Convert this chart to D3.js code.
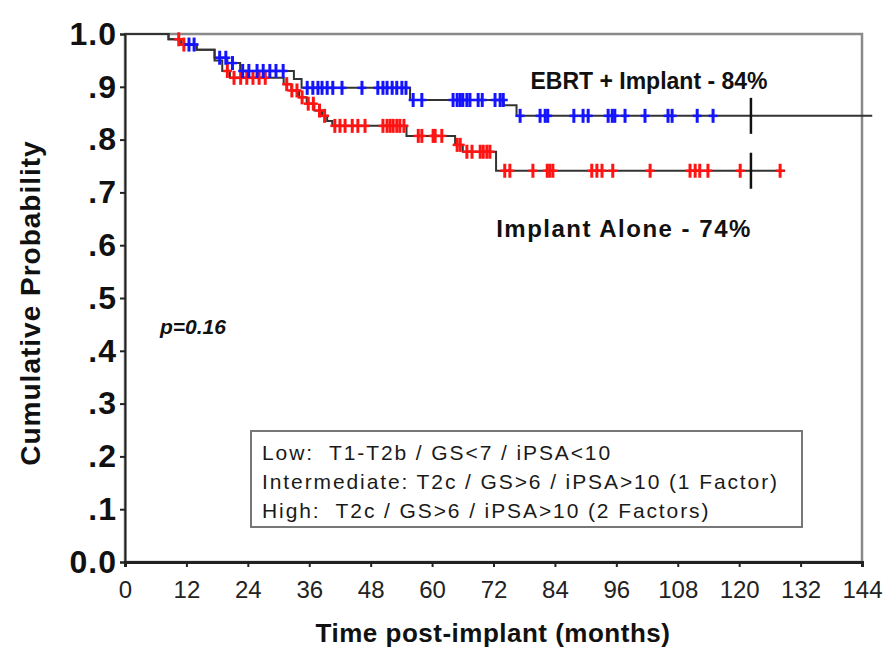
<!DOCTYPE html>
<html><head><meta charset="utf-8">
<script src="https://cdn.jsdelivr.net/npm/d3@7"></script>
<style>
html,body{margin:0;padding:0;background:#fff;}
svg{display:block;font-family:"Liberation Sans",Arial,sans-serif;}
text{white-space:pre;}
</style></head>
<body>
<svg id="chart" width="893" height="651"></svg>
<script>
// ---- data ----
const xTicks = [0,12,24,36,48,60,72,84,96,108,120,132,144];
const yTicks = [0,0.1,0.2,0.3,0.4,0.5,0.6,0.7,0.8,0.9,1.0];
const yTickLabels = ["0.0",".1",".2",".3",".4",".5",".6",".7",".8",".9","1.0"];

// EBRT + Implant (blue): step times and survival after each step
const ebrtStepT = [8.5, 11, 14, 17.5, 20, 22.5, 33, 34.5, 55.7, 74, 76.5];
const ebrtStepS = [0.99, 0.98, 0.97, 0.955, 0.945, 0.93, 0.915, 0.898, 0.875, 0.865, 0.845];
const ebrtEnd = 146;
const ebrtCensor = [12.5, 13.5, 18.5, 19.7, 21, 23, 24.2, 25.8, 27, 28.3, 29.5, 30.9,
  35.6, 36.7, 37.7, 38.5, 39.5, 40.6, 42.4, 46.3, 49.4, 50.4, 51.2, 52.2, 53.1, 54.1, 54.9,
  56.3, 58, 64.1, 64.9, 65.5, 66, 66.8, 67.4, 69, 69.8, 72.3, 73.3, 73.9,
  77.2, 81.1, 82.1, 82.6, 87.7, 89.5, 90.5, 94.4, 95.2, 95.7, 97.7, 101.6, 106.1, 106.9, 111.8, 114.9];

// Implant Alone (red)
const implStepT = [8.5, 11, 14, 17.5, 19, 20.5, 31, 32.5, 34, 35.5, 37, 38.5, 39.5, 40.5, 55, 64.5, 66, 72.5];
const implStepS = [0.99, 0.98, 0.97, 0.95, 0.93, 0.917, 0.905, 0.893, 0.88, 0.868, 0.855, 0.845, 0.835, 0.826, 0.807, 0.79, 0.777, 0.741];
const implEnd = 129;
const implCensor = [10.5, 11.5, 20, 21.3, 22.6, 23.8, 25, 26.2, 27.4, 31.6, 32.6, 33.6, 34.6, 35.8, 36.8, 38, 39,
  41, 42, 43, 44.4, 45.5, 46.9, 50.4, 51.2, 51.8, 52.4, 53.1, 53.7, 54.5,
  57.3, 58, 60.2, 60.6, 61.9, 64.9, 65.5, 66.8, 67.8, 69.4, 70, 70.7, 71.3,
  74.2, 75.2, 79.7, 82.5, 83, 83.6, 91.2, 92.2, 93.2, 95.3, 102.6, 110.4, 111.4, 112.3, 113.9, 120.2, 128];

const milestoneT = 122.3;
const seriesLabels = ["EBRT + Implant - 84%", "Implant Alone - 74%"];
const legendLines = ["Low:  T1-T2b / GS<7 / iPSA<10",
  "Intermediate: T2c / GS>6 / iPSA>10 (1 Factor)",
  "High:  T2c / GS>6 / iPSA>10 (2 Factors)"];
const pText = "p=0.16";

// ---- chart ----
const svg = d3.select("#chart");
const x = d3.scaleLinear().domain([0,144]).range([125,862]);
const y = d3.scaleLinear().domain([0,1]).range([562,34]);

function stepPoints(T,S,end){
  const pts=[[0,1]];
  T.forEach((t,i)=>pts.push([t,S[i]]));
  pts.push([end,S[S.length-1]]);
  return pts;
}
function survAt(T,S,t){
  let s=1; for(let i=0;i<T.length;i++){ if(T[i]<=t) s=S[i]; } return s;
}

// frame (gray)
svg.append("rect").attr("x",x(0)).attr("y",y(1)).attr("width",x(144)-x(0)).attr("height",y(0)-y(1))
  .attr("fill","none").attr("stroke","#8a8a8a").attr("stroke-width",2.5);

// axes
const xAxis = d3.axisBottom(x).tickValues(xTicks).tickSize(5).tickFormat(d=>d);
const gx = svg.append("g").attr("transform",`translate(0,${y(0)})`).call(xAxis);
gx.select(".domain").attr("stroke","#222").attr("stroke-width",3);
gx.selectAll(".tick line").attr("stroke","#222").attr("stroke-width",2);
gx.selectAll(".tick text").attr("font-size",24).attr("fill","#222").attr("y",14).attr("dy","0.9em")
  .attr("font-family","Liberation Sans, Arial, sans-serif");

const yAxis = d3.axisLeft(y).tickValues(yTicks).tickSize(5).tickFormat((d,i)=>yTickLabels[i]);
const gy = svg.append("g").attr("transform",`translate(${x(0)},0)`).call(yAxis);
gy.select(".domain").attr("stroke","#222").attr("stroke-width",2);
gy.selectAll(".tick line").attr("stroke","#222").attr("stroke-width",2);
gy.selectAll(".tick text").attr("font-size",32).attr("font-weight","bold").attr("fill","#111")
  .attr("x",-8).attr("letter-spacing","1px").attr("font-family","Liberation Sans, Arial, sans-serif");

// axis titles
svg.append("text").attr("x",493).attr("y",642).attr("text-anchor","middle").attr("letter-spacing","0.5px")
  .attr("font-size",26).attr("font-weight","bold").attr("fill","#111").text("Time post-implant (months)");
svg.append("text").attr("transform",`translate(40,${303}) rotate(-90)`).attr("text-anchor","middle")
  .attr("letter-spacing","1px")
  .attr("font-size",28).attr("font-weight","bold").attr("fill","#111").text("Cumulative Probability");

// curves
const line = d3.line().x(d=>x(d[0])).y(d=>y(d[1])).curve(d3.curveStepAfter);
const series = [
  {T:ebrtStepT,S:ebrtStepS,end:ebrtEnd,c:ebrtCensor,color:"#1414ff"},
  {T:implStepT,S:implStepS,end:implEnd,c:implCensor,color:"#ff1414"}
];
series.forEach(s=>{
  svg.append("path").attr("d",line(stepPoints(s.T,s.S,s.end))).attr("fill","none")
    .attr("stroke","#333").attr("stroke-width",2);
});
series.slice().reverse().forEach(s=>{
  const g=svg.append("g");
  s.c.forEach(t=>{
    const cx=x(t), cy=y(survAt(s.T,s.S,t));
    g.append("line").attr("x1",cx).attr("x2",cx).attr("y1",cy-7).attr("y2",cy+7)
      .attr("stroke",s.color).attr("stroke-width",3);
    g.append("line").attr("x1",cx-4.5).attr("x2",cx+4.5).attr("y1",cy).attr("y2",cy)
      .attr("stroke",s.color).attr("stroke-width",2.5);
  });
});
// 10-year markers
series.forEach(s=>{
  const cy=y(survAt(s.T,s.S,milestoneT));
  svg.append("line").attr("x1",x(milestoneT)).attr("x2",x(milestoneT)).attr("y1",cy-18).attr("y2",cy+18)
    .attr("stroke","#111").attr("stroke-width",2.5);
});

// series labels
svg.append("text").attr("x",649).attr("y",89).attr("text-anchor","middle").attr("font-size",23)
  .attr("font-weight","bold").attr("fill","#111").text(seriesLabels[0]);
svg.append("text").attr("x",624).attr("y",237).attr("text-anchor","middle").attr("font-size",24)
  .attr("letter-spacing","1.5px")
  .attr("font-weight","bold").attr("fill","#111").text(seriesLabels[1]);

// p value
svg.append("text").attr("x",160).attr("y",334).attr("font-size",21).attr("font-weight","bold")
  .attr("font-style","italic").attr("fill","#111").text(pText);

// legend box
svg.append("rect").attr("x",251).attr("y",431).attr("width",551).attr("height",96)
  .attr("fill","#fff").attr("stroke","#777").attr("stroke-width",2);
legendLines.forEach((t,i)=>{
  svg.append("text").attr("x",262).attr("y",460+i*29).attr("font-size",21).attr("letter-spacing","1.9px")
    .attr("fill","#1a1a1a").text(t);
});
</script>
</body></html>
